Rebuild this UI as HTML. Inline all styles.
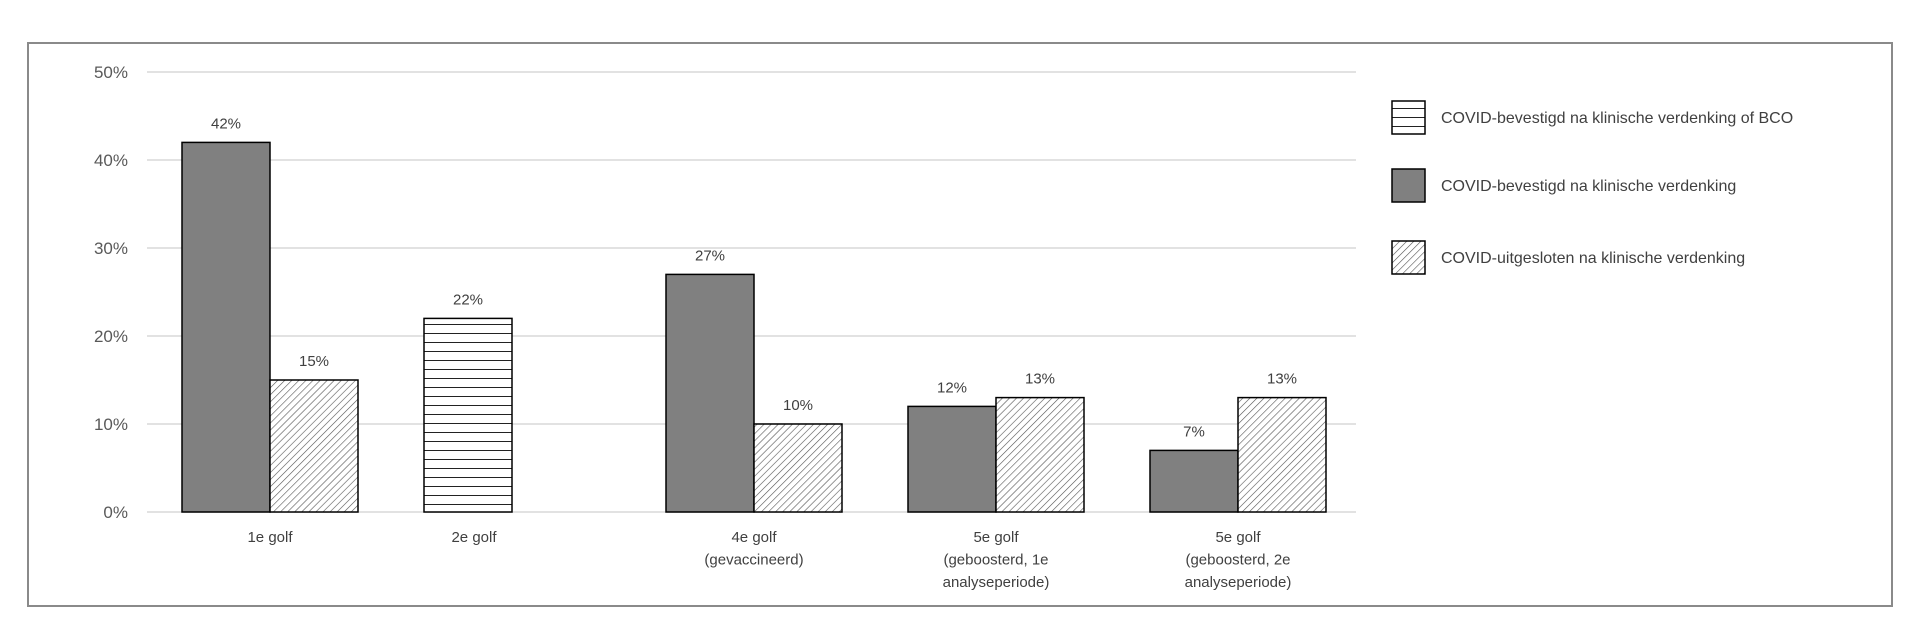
<!DOCTYPE html>
<html><head><meta charset="utf-8">
<style>
body{margin:0;background:#fff;}
svg{display:block;font-family:"Liberation Sans",sans-serif;}
</style></head>
<body>
<svg id="chart" width="1920" height="635" viewBox="0 0 1920 635" xmlns="http://www.w3.org/2000/svg">
<defs>
<pattern id="diag" patternUnits="userSpaceOnUse" width="5" height="5" patternTransform="rotate(45)">
<rect width="5" height="5" fill="#fff"/>
<line x1="0" y1="0" x2="0" y2="5" stroke="#555" stroke-width="1.2"/>
</pattern>
<pattern id="horiz" patternUnits="userSpaceOnUse" width="10" height="9">
<rect width="10" height="9" fill="#fff"/>
<line x1="0" y1="0.5" x2="10" y2="0.5" stroke="#222" stroke-width="1"/>
</pattern>
</defs>
<rect x="28" y="43" width="1864" height="563" fill="#fff" stroke="#8a8a8a" stroke-width="2"/>
<g id="grid"></g>
<g id="bars"></g>
<g id="labels"></g>
<g id="legend"></g>
</svg>
<script>
const categories = [["1e golf"],["2e golf"],["4e golf","(gevaccineerd)"],["5e golf","(geboosterd, 1e","analyseperiode)"],["5e golf","(geboosterd, 2e","analyseperiode)"]];
const confirmedValues = [42, null, 27, 12, 7];
const excludedValues = [15, null, 10, 13, 13];
const bcoValues = [null, 22, null, null, null];
const yTicks = [0, 10, 20, 30, 40, 50];
const yTickLabels = ["0%","10%","20%","30%","40%","50%"];
const legendLabels = ["COVID-bevestigd na klinische verdenking of BCO","COVID-bevestigd na klinische verdenking","COVID-uitgesloten na klinische verdenking"];

const NS = "http://www.w3.org/2000/svg";
const x0 = 147, x1 = 1356, yBase = 512, pxPer = 8.8;
const y = v => yBase - v * pxPer;
const groupW = 242, slotW = 88;
const groupCenter = i => 270 + i * (x1 - x0 - 0) / 5 * 0 + 270 * 0 + i * groupW;
function el(tag, attrs, parent){const e=document.createElementNS(NS,tag);for(const k in attrs)e.setAttribute(k,attrs[k]);parent.appendChild(e);return e;}
const grid=document.getElementById('grid'), bars=document.getElementById('bars'), labels=document.getElementById('labels'), legend=document.getElementById('legend');

yTicks.forEach((t,i)=>{
  const l=el('line',{x1:x0,x2:x1,y1:y(t),y2:y(t),stroke:'#d9d9d9','stroke-width':1.5},grid);
  
  
  const tx=el('text',{x:128,y:y(t)+6,'text-anchor':'end','font-size':17,fill:'#595959'},grid);
  tx.textContent=yTickLabels[i];
  
  
});

function drawBar(xl, v, fill, name){
  const r=el('rect',{x:xl,y:y(v),width:slotW,height:v*pxPer,fill:fill,stroke:'#000','stroke-width':1.5},bars);
  
  
  const t=el('text',{x:xl+slotW/2,y:y(v)-14,'text-anchor':'middle','font-size':15,fill:'#404040'},labels);
  t.textContent=v+'%';
  
  
}

categories.forEach((c,i)=>{
  const gc = 270 + i*groupW;
  let labelX = gc;
  if(confirmedValues[i]!==null) drawBar(gc-slotW, confirmedValues[i], '#808080', 'bar-confirmed-'+i);
  if(excludedValues[i]!==null) drawBar(gc, excludedValues[i], 'url(#diag)', 'bar-excluded-'+i);
  if(bcoValues[i]!==null){ drawBar(gc-slotW, bcoValues[i], 'url(#horiz)', 'bar-bco-'+i); labelX = gc-slotW/2+6; }
  c.forEach((line,j)=>{
    const t=el('text',{x:labelX,y:542+j*22.5,'text-anchor':'middle','font-size':15,fill:'#404040'},labels);
    t.textContent=line;
    
    
  });
});

const fills=['url(#horiz)','#808080','url(#diag)'];
const rowsY=[117,185,257];
legendLabels.forEach((lab,i)=>{
  const g=el('g',{},legend);
  
  
  el('rect',{x:1392,y:rowsY[i]-16,width:33,height:33,fill:fills[i],stroke:'#000','stroke-width':1.5},g);
  const t=el('text',{x:1441,y:rowsY[i]+6,'font-size':16,fill:'#404040'},g);
  t.textContent=lab;
});
</script>
</body></html>
